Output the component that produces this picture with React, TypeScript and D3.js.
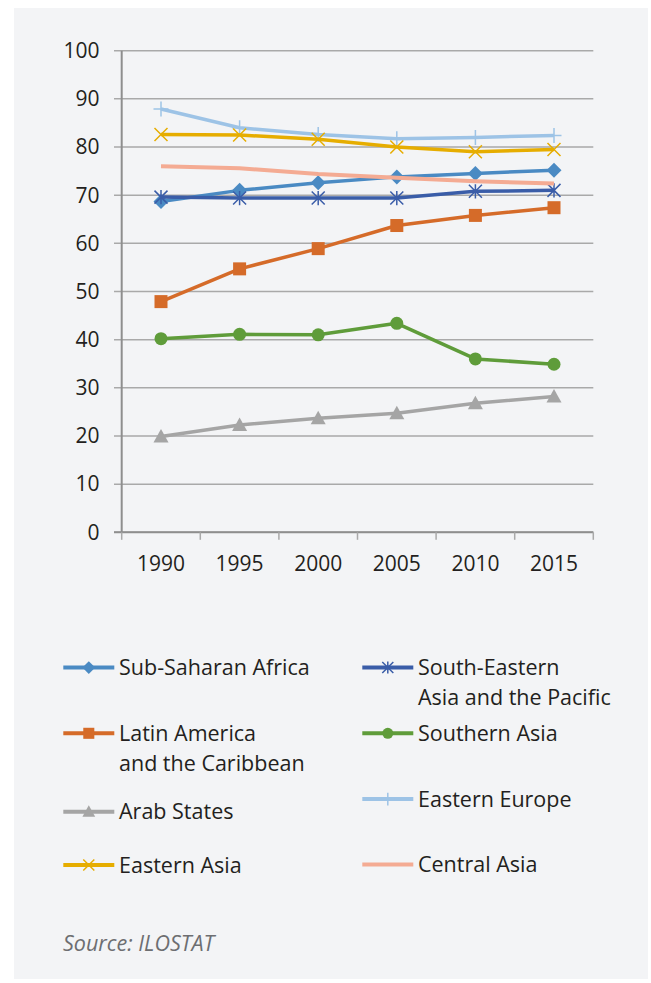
import React from "react";
import * as d3 from "d3";

const years = ["1990", "1995", "2000", "2005", "2010", "2015"];
const yTicks = [0, 10, 20, 30, 40, 50, 60, 70, 80, 90, 100];

const subSaharan = [68.7, 71.0, 72.6, 73.8, 74.5, 75.2];
const southEastern = [69.6, 69.4, 69.4, 69.4, 70.8, 71.0];
const latinAmerica = [47.9, 54.7, 58.9, 63.7, 65.8, 67.4];
const southernAsia = [40.2, 41.1, 41.0, 43.4, 36.0, 34.9];
const arabStates = [19.9, 22.3, 23.7, 24.7, 26.8, 28.2];
const easternEurope = [87.9, 84.0, 82.6, 81.7, 82.0, 82.4];
const easternAsia = [82.6, 82.5, 81.6, 80.0, 79.0, 79.5];
const centralAsia = [76.0, 75.6, 74.4, 73.6, 72.9, 72.4];

type Marker = "diamond" | "asterisk" | "square" | "circle" | "triangle" | "plus" | "x" | "none";
const series: { name: string[]; values: number[]; color: string; marker: Marker }[] = [
  { name: ["Sub-Saharan Africa"], values: subSaharan, color: "#4a8ac3", marker: "diamond" },
  { name: ["South-Eastern", "Asia and the Pacific"], values: southEastern, color: "#3a5da8", marker: "asterisk" },
  { name: ["Latin America", "and the Caribbean"], values: latinAmerica, color: "#d56b29", marker: "square" },
  { name: ["Southern Asia"], values: southernAsia, color: "#5f9c3a", marker: "circle" },
  { name: ["Arab States"], values: arabStates, color: "#a5a5a5", marker: "triangle" },
  { name: ["Eastern Europe"], values: easternEurope, color: "#9dc3e6", marker: "plus" },
  { name: ["Eastern Asia"], values: easternAsia, color: "#e6ad00", marker: "x" },
  { name: ["Central Asia"], values: centralAsia, color: "#f4ab93", marker: "none" },
];

const FONT = "'Open Sans', 'Noto Sans', sans-serif";

function MarkerShape({ type, x, y, color, legend }: { type: Marker; x: number; y: number; color: string; legend?: boolean }) {
  const s = legend ? 0.85 : 1;
  switch (type) {
    case "diamond": {
      const r = 7.5 * s;
      return <path d={`M${x},${y - r}L${x + r},${y}L${x},${y + r}L${x - r},${y}Z`} fill={color} />;
    }
    case "square": {
      const r = 6.5 * s;
      return <rect x={x - r} y={y - r} width={2 * r} height={2 * r} fill={color} />;
    }
    case "circle":
      return <circle cx={x} cy={y} r={6.5 * s} fill={color} />;
    case "triangle": {
      const r = 7.5 * s;
      return <path d={`M${x},${y - r}L${x + r},${y + r * 0.8}L${x - r},${y + r * 0.8}Z`} fill={color} />;
    }
    case "plus": {
      const r = 7.5 * s;
      return (
        <path d={`M${x - r},${y}L${x + r},${y}M${x},${y - r}L${x},${y + r}`} stroke={color} strokeWidth={1.5} />
      );
    }
    case "x": {
      const r = 6.5 * s;
      return (
        <path
          d={`M${x - r},${y - r}L${x + r},${y + r}M${x - r},${y + r}L${x + r},${y - r}`}
          stroke={color}
          strokeWidth={1.5}
        />
      );
    }
    case "asterisk": {
      const r = 6.5 * s;
      return (
        <path
          d={`M${x - r},${y - r}L${x + r},${y + r}M${x - r},${y + r}L${x + r},${y - r}M${x},${y - r * 1.1}L${x},${y + r * 1.1}`}
          stroke={color}
          strokeWidth={1.5}
        />
      );
    }
    default:
      return null;
  }
}

export default function App() {
  const W = 651;
  const H = 983;
  const left = 121.7;
  const right = 593.3;
  const x = d3.scaleBand<string>().domain(years).range([left, right]);
  const y = d3.scaleLinear().domain([0, 100]).range([532.3, 50.7]);
  const cx = (yr: string) => (x(yr) as number) + x.bandwidth() / 2;
  const line = d3
    .line<number>()
    .x((_, i) => cx(years[i]))
    .y((v) => y(v));

  const legendPos = [
    { lx: 63.3, ty: 667.5 },
    { lx: 362.3, ty: 667.5 },
    { lx: 63.3, ty: 733.3 },
    { lx: 362.3, ty: 733.3 },
    { lx: 63.3, ty: 811.7 },
    { lx: 362.3, ty: 799 },
    { lx: 63.3, ty: 865 },
    { lx: 362.3, ty: 864.5 },
  ];

  return (
    <svg width={W} height={H} style={{ position: "absolute", left: 0, top: 0 }} fontFamily={FONT}>
      <rect x={0} y={0} width={W} height={H} fill="#ffffff" />
      <rect x={14} y={8} width={634} height={971} fill="#f3f4f6" />

      {/* gridlines */}
      {yTicks.map((t) => (
        <line key={t} x1={114} x2={right} y1={y(t)} y2={y(t)} stroke="#a9a9a9" strokeWidth={1.5} />
      ))}
      {/* axes */}
      <line x1={left} x2={left} y1={y(100)} y2={y(0)} stroke="#8e8e8e" strokeWidth={2} />
      <line x1={114} x2={right} y1={y(0)} y2={y(0)} stroke="#8e8e8e" strokeWidth={2} />
      {d3.range(years.length + 1).map((i) => {
        const xx = left + i * x.bandwidth();
        return <line key={i} x1={xx} x2={xx} y1={y(0)} y2={y(0) + 7.5} stroke="#a9a9a9" strokeWidth={1.5} />;
      })}

      {yTicks.map((t) => (
        <text key={t} x={99.5} y={y(t)} dy="0.35em" textAnchor="end" fontSize={21} fill="#231f20">
          {t}
        </text>
      ))}
      {years.map((yr) => (
        <text key={yr} x={cx(yr)} y={563.5} dy="0.35em" textAnchor="middle" fontSize={21} fill="#231f20">
          {yr}
        </text>
      ))}

      {/* series */}
      {series.map((s) => (
        <g key={s.name.join(" ")}>
          <path
            d={line(s.values) || ""}
            fill="none"
            stroke={s.color}
            strokeWidth={s.marker === "none" ? 4 : 3.5}
            strokeLinejoin="round"
          />
          {s.values.map((v, i) => (
            <MarkerShape key={i} type={s.marker} x={cx(years[i])} y={y(v)} color={s.color} />
          ))}
        </g>
      ))}

      {/* legend */}
      {series.map((s, i) => {
        const p = legendPos[i];
        return (
          <g key={"lg" + i}>
            <line x1={p.lx} x2={p.lx + 51} y1={p.ty} y2={p.ty} stroke={s.color} strokeWidth={4} />
            <MarkerShape type={s.marker} x={p.lx + 25.5} y={p.ty} color={s.color} legend />
            {s.name.map((nm, j) => (
              <text key={j} x={p.lx + 55.7} y={p.ty + j * 30} dy="0.35em" fontSize={21.5} fill="#231f20">
                {nm}
              </text>
            ))}
          </g>
        );
      })}

      <text x={63} y={943} dy="0.35em" fontSize={21.5} fontStyle="italic" fill="#6d6e71">
        Source: ILOSTAT
      </text>
    </svg>
  );
}
